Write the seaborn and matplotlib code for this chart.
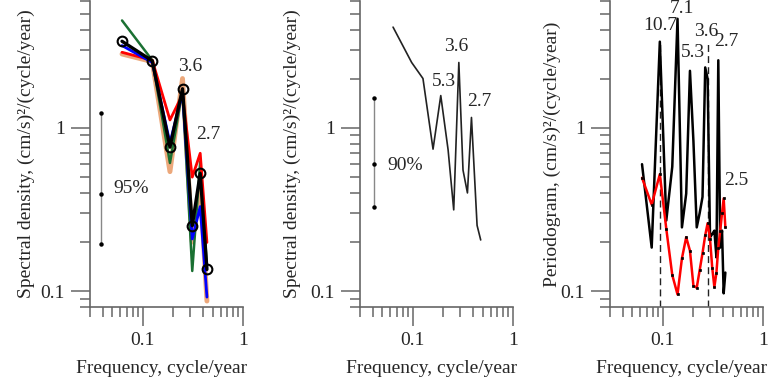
import numpy as np
import pandas as pd
import matplotlib
matplotlib.use("Agg")
import matplotlib.pyplot as plt
import matplotlib.ticker as mticker
import seaborn as sns

sns.set_style("ticks")
plt.rcParams['font.family'] = ['Liberation Serif', 'DejaVu Serif']

# ---- panel 1: spectral density, several estimates ----
f1 = [0.0625, 0.125, 0.1875, 0.25, 0.3125, 0.375, 0.4375]
s_orange = [2.84, 2.55, 0.54, 2.01, 0.20, 0.45, 0.087]
s_green = [4.56, 2.60, 0.61, 1.70, 0.133, 0.62, 0.14]
s_red = [2.91, 2.60, 1.12, 1.60, 0.50, 0.70, 0.199]
s_blue = [3.20, 2.52, 0.81, 1.65, 0.209, 0.33, 0.092]
s_black = [3.40, 2.58, 0.763, 1.74, 0.252, 0.527, 0.136]
ci95_x = [0.0388, 0.0388, 0.0388]
ci95_y = [0.194, 0.396, 1.238]

# ---- panel 2: single spectral estimate ----
f2 = [0.064, 0.098, 0.127, 0.160, 0.191, 0.226, 0.257, 0.289, 0.318, 0.352,
      0.386, 0.439, 0.477]
s2 = [4.15, 2.52, 2.01, 0.742, 1.58, 0.734, 0.315, 2.52, 0.552, 0.40,
      1.16, 0.253, 0.206]
ci90_x = [0.0412, 0.0412, 0.0412]
ci90_y = [0.328, 0.599, 1.52]

# ---- panel 3: periodograms ----
f3 = [0.0625, 0.078, 0.094, 0.109, 0.125, 0.141, 0.156, 0.172, 0.1875, 0.203,
      0.219, 0.234, 0.25, 0.266, 0.281, 0.297, 0.3125, 0.328, 0.344, 0.359,
      0.375, 0.391, 0.406, 0.422]
p_black = [0.60, 0.185, 3.38, 0.271, 0.579, 4.67, 0.246, 0.396, 2.24, 0.83,
           0.246, 0.30, 0.378, 2.35, 2.0, 0.214, 0.224, 0.235, 0.161, 2.6,
           0.185, 0.235, 0.097, 0.13]
p_red = [0.495, 0.339, 0.521, 0.241, 0.1256, 0.0955, 0.159, 0.214, 0.177, 0.108,
         0.105, 0.134, 0.171, 0.22, 0.261, 0.209, 0.139, 0.106, 0.13, 0.185,
         0.235, 0.30, 0.37, 0.246]
dash_f = [0.0935, 0.281]
dash_y = [0.08, 3.4]

peaks1 = [("3.6", 0.297, 2.39), ("2.7", 0.447, 0.909)]
peaks2 = [("5.3", 0.205, 1.93), ("3.6", 0.275, 3.14), ("2.7", 0.461, 1.45)]
peaks3 = [("10.7", 0.094, 4.23), ("7.1", 0.1545, 5.39), ("5.3", 0.2, 2.92),
          ("3.6", 0.269, 3.88), ("2.7", 0.433, 3.37), ("2.5", 0.536, 0.479)]

ylab_sd = "Spectral density, (cm/s)²/(cycle/year)"
ylab_pg = "Periodogram, (cm/s)²/(cycle/year)"
xlab = "Frequency, cycle/year"

fig = plt.figure(figsize=(7.68, 3.78), dpi=100)
W, H = 768, 378
ax1 = fig.add_axes([90 / W, 71 / H, 153 / W, 306 / H])
ax2 = fig.add_axes([360 / W, 71 / H, 153 / W, 306 / H])
ax3 = fig.add_axes([610 / W, 71 / H, 153 / W, 306 / H])


def style(ax, ylab, ylab_x):
    ax.set_xscale("log")
    ax.set_yscale("log")
    ax.set_xlim(0.03, 1)
    ax.set_ylim(0.08, 6)
    for s in ["top", "right"]:
        ax.spines[s].set_visible(False)
    for s in ["left", "bottom"]:
        ax.spines[s].set_color("#666666")
        ax.spines[s].set_linewidth(1.2)
    ax.xaxis.set_major_locator(mticker.FixedLocator([0.1, 1]))
    ax.yaxis.set_major_locator(mticker.FixedLocator([0.1, 1]))
    ax.xaxis.set_minor_locator(mticker.LogLocator(subs=np.arange(2, 10)))
    ax.yaxis.set_minor_locator(mticker.LogLocator(subs=np.arange(2, 10)))
    fmt = mticker.FuncFormatter(lambda v, p: "%g" % v)
    ax.xaxis.set_major_formatter(fmt)
    ax.yaxis.set_major_formatter(fmt)
    ax.xaxis.set_minor_formatter(mticker.NullFormatter())
    ax.yaxis.set_minor_formatter(mticker.NullFormatter())
    ax.tick_params(which="major", direction="out", length=14, width=1.1,
                   color="#666666", labelsize=14, pad=4)
    ax.tick_params(which="minor", direction="out", length=7, width=1.1,
                   color="#666666")
    ax.set_xlabel(xlab, fontsize=14)
    ax.set_ylabel(ylab, fontsize=14)
    ax.xaxis.set_label_coords(0.47, -0.2)
    ax.xaxis.label.set_va("center")
    ax.yaxis.set_label_coords(ylab_x, 0.5)
    ax.yaxis.label.set_va("center")
    ax.patch.set_alpha(0)


# panel 1
df1 = pd.DataFrame({"f": f1, "orange": s_orange, "green": s_green,
                    "red": s_red, "blue": s_blue, "black": s_black})
sns.lineplot(data=df1, x="f", y="orange", ax=ax1, color="#e8935a", lw=3.5,
             alpha=0.8, sort=False)
sns.lineplot(data=df1, x="f", y="green", ax=ax1, color="#1a7032", lw=1.8,
             sort=False)
sns.lineplot(data=df1, x="f", y="red", ax=ax1, color="#ff0000", lw=2,
             sort=False)
sns.lineplot(data=df1, x="f", y="blue", ax=ax1, color="#0000ff", lw=2,
             sort=False)
sns.lineplot(data=df1, x="f", y="black", ax=ax1, color="black", lw=2.4,
             marker="o", markersize=7, markerfacecolor="none",
             markeredgecolor="black", markeredgewidth=1.5, sort=False)
ax1.plot(ci95_x, ci95_y, color="#888888", lw=1)
ax1.plot(ci95_x, ci95_y, ls="none", marker="o", ms=2.2, color="black")
ax1.text(0.0516, 0.427, "95%", fontsize=14, ha="left", va="center")
for t, x, y in peaks1:
    ax1.text(x, y, t, fontsize=14, ha="center", va="center")
style(ax1, ylab_sd, -0.414)

# panel 2
sns.lineplot(x=f2, y=s2, ax=ax2, color="#222222", lw=1.2, sort=False)
ax2.plot(ci90_x, ci90_y, color="#888888", lw=1)
ax2.plot(ci90_x, ci90_y, ls="none", marker="o", ms=2.2, color="black")
ax2.text(0.0568, 0.593, "90%", fontsize=14, ha="left", va="center")
for t, x, y in peaks2:
    ax2.text(x, y, t, fontsize=14, ha="center", va="center")
style(ax2, ylab_sd, -0.44)

# panel 3
for fx in dash_f:
    ax3.plot([fx, fx], dash_y, color="#222222", lw=1, ls=(0, (5, 3)))
sns.lineplot(x=f3, y=p_black, ax=ax3, color="black", lw=1.8, sort=False)
sns.lineplot(x=f3, y=p_red, ax=ax3, color="#ff0000", lw=1.8, marker="s",
             markersize=1.6, markerfacecolor="black", markeredgecolor="black",
             markeredgewidth=0.5, sort=False)
for t, x, y in peaks3:
    ax3.text(x, y, t, fontsize=14, ha="center", va="center")
style(ax3, ylab_pg, -0.375)

fig.savefig("out.png", dpi=100)
